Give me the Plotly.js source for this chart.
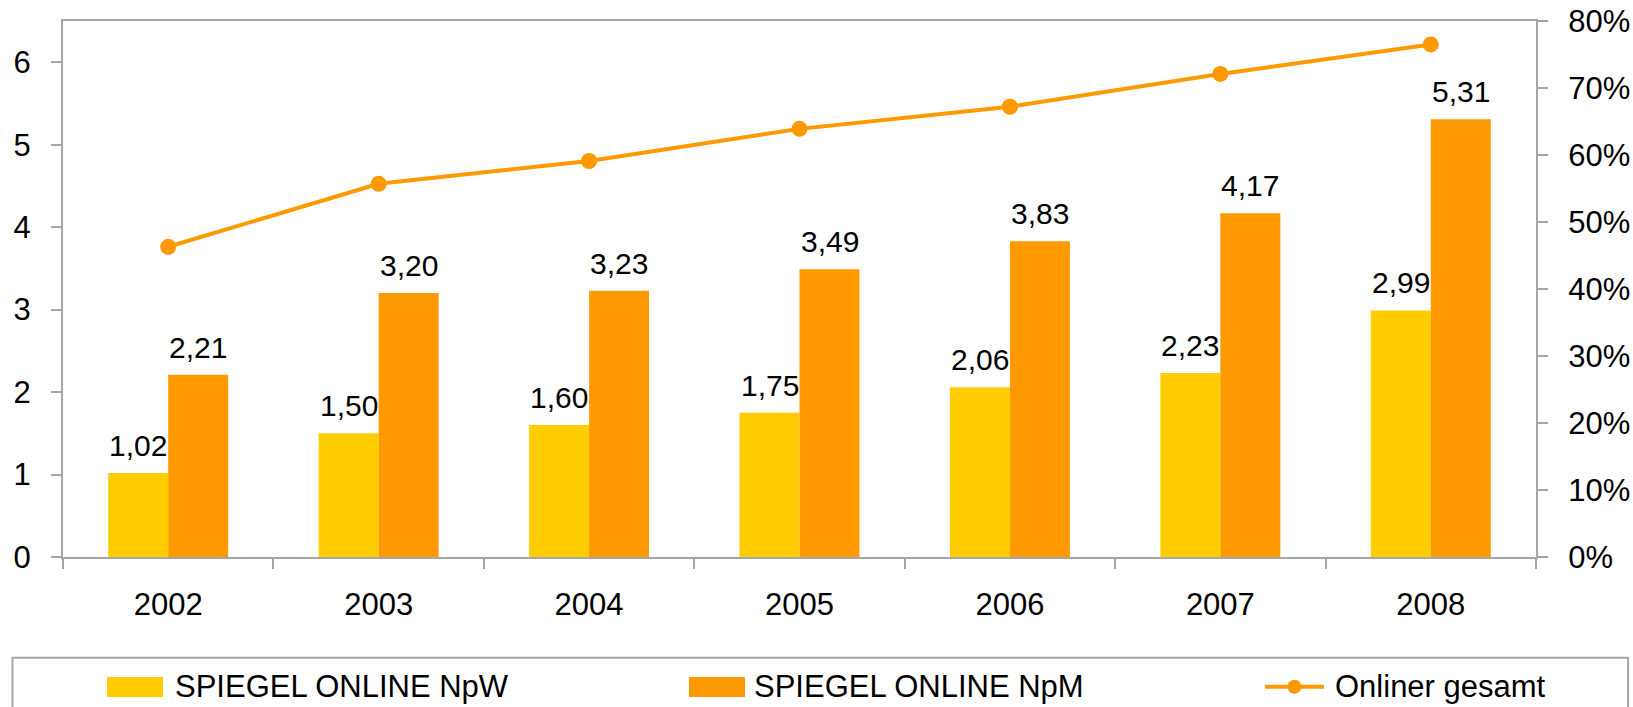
<!DOCTYPE html>
<html>
<head>
<meta charset="utf-8">
<script src="https://cdn.plot.ly/plotly-3.0.1.min.js"></script>
<style>html,body{margin:0;padding:0;background:#fff;}#chart{width:1633px;height:707px;}</style>
</head>
<body>
<div id="chart"></div>
<script>
const years = ['2002', '2003', '2004', '2005', '2006', '2007', '2008'];
const npw = [1.02, 1.50, 1.60, 1.75, 2.06, 2.23, 2.99];
const npm = [2.21, 3.20, 3.23, 3.49, 3.83, 4.17, 5.31];
const onliner = [0.463, 0.557, 0.591, 0.639, 0.672, 0.721, 0.765];
const seriesNames = ['SPIEGEL ONLINE NpW', 'SPIEGEL ONLINE NpM', 'Onliner gesamt'];

const FONT = '"Liberation Sans", Arial, sans-serif';
const YELLOW = '#FFCC00';
const ORANGE = '#FF9900';
const AXIS = '#a6a6a6';

const fmt = v => v.toFixed(2).replace('.', ',');

const traces = [
  {type: 'bar', name: seriesNames[0], x: years, y: npw, marker: {color: YELLOW}, hoverinfo: 'skip'},
  {type: 'bar', name: seriesNames[1], x: years, y: npm, marker: {color: ORANGE}, hoverinfo: 'skip'},
  {type: 'scatter', mode: 'lines+markers', name: seriesNames[2], x: years, y: onliner, yaxis: 'y2',
   line: {color: ORANGE, width: 4}, marker: {color: ORANGE, size: 16}, hoverinfo: 'skip'}
];

// value labels (category axis: annotation x uses the category serial number)
const annotations = [];
years.forEach((yr, i) => {
  annotations.push({x: i, y: npw[i], xref: 'x', yref: 'y', text: fmt(npw[i]), showarrow: false,
    xshift: -30, yshift: 9, yanchor: 'bottom', font: {family: FONT, size: 30, color: '#000'}});
  annotations.push({x: i, y: npm[i], xref: 'x', yref: 'y', text: fmt(npm[i]), showarrow: false,
    xshift: 30, yshift: 9, yanchor: 'bottom', font: {family: FONT, size: 30, color: '#000'}});
});

// legend drawn below the plot (paper coordinates)
const legY = -0.2425;
const legTextX = [0.0745, 0.4678, 0.8622];
seriesNames.forEach((n, k) => {
  annotations.push({x: legTextX[k], y: legY, xref: 'paper', yref: 'paper', text: n, showarrow: false,
    xanchor: 'left', yanchor: 'middle', font: {family: FONT, size: 31, color: '#000'}});
});

const shapes = [
  {type: 'rect', xref: 'paper', yref: 'paper', x0: -0.0343, x1: 1.0625, y0: -0.31, y1: -0.188,
    line: {color: AXIS, width: 2}, fillcolor: 'rgba(0,0,0,0)', layer: 'below'},
  {type: 'rect', xref: 'paper', yref: 'paper', x0: 0.0299, x1: 0.0679, y0: -0.2610, y1: -0.2237,
    line: {width: 0}, fillcolor: YELLOW},
  {type: 'rect', xref: 'paper', yref: 'paper', x0: 0.4250, x1: 0.4630, y0: -0.2610, y1: -0.2237,
    line: {width: 0}, fillcolor: ORANGE},
  {type: 'line', xref: 'paper', yref: 'paper', x0: 0.8160, x1: 0.8561, y0: -0.2420, y1: -0.2420,
    line: {color: ORANGE, width: 4}},
  {type: 'circle', xref: 'paper', yref: 'paper', x0: 0.8360 - 0.0048, x1: 0.8360 + 0.0048,
    y0: -0.2420 - 0.0131, y1: -0.2420 + 0.0131, line: {width: 0}, fillcolor: ORANGE}
];

const tickStyle = {ticklen: 10, tickwidth: 2, tickcolor: AXIS};

const layout = {
  width: 1633, height: 707,
  margin: {l: 63, r: 97, t: 21, b: 150, pad: 0, autoexpand: false},
  paper_bgcolor: '#fff', plot_bgcolor: '#fff',
  font: {family: FONT, size: 30, color: '#000'},
  barmode: 'group', bargap: 0.43, bargroupgap: 0,
  showlegend: false,
  xaxis: Object.assign({type: 'category', range: [-0.5, 6.5], showline: true, linecolor: AXIS, linewidth: 2, mirror: true,
    ticks: 'outside', tickson: 'boundaries',
    tickfont: {family: FONT, size: 31, color: '#000'}, ticklabelstandoff: 19, tickangle: 0,
    showgrid: false, zeroline: false, fixedrange: true}, tickStyle),
  // inner halves of the crossing tick marks
  xaxis2: Object.assign({overlaying: 'x', anchor: 'y', side: 'bottom', type: 'linear', range: [-0.5, 6.5],
    tick0: -0.5, dtick: 1, ticks: 'inside', showticklabels: false, showline: false,
    showgrid: false, zeroline: false, fixedrange: true}, tickStyle),
  yaxis: Object.assign({range: [0, 6.5], dtick: 1, tick0: 0, showline: true, linecolor: AXIS, linewidth: 2,
    ticks: 'outside', ticklabelstandoff: 14,
    tickfont: {family: FONT, size: 31, color: '#000'}, showgrid: false, zeroline: false, fixedrange: true}, tickStyle),
  yaxis2: Object.assign({overlaying: 'y', side: 'right', range: [0, 0.8], dtick: 0.1, tick0: 0, tickformat: '.0%',
    showline: true, linecolor: AXIS, linewidth: 2, ticks: 'outside', ticklabelstandoff: 14,
    tickfont: {family: FONT, size: 31, color: '#000'},
    showgrid: false, zeroline: false, fixedrange: true}, tickStyle),
  yaxis3: Object.assign({overlaying: 'y', anchor: 'x', side: 'left', range: [0, 6.5], dtick: 1, tick0: 0,
    ticks: 'inside', showticklabels: false, showline: false, showgrid: false, zeroline: false, fixedrange: true}, tickStyle),
  yaxis4: Object.assign({overlaying: 'y', anchor: 'x', side: 'right', range: [0, 0.8], dtick: 0.1, tick0: 0,
    ticks: 'inside', showticklabels: false, showline: false, showgrid: false, zeroline: false, fixedrange: true}, tickStyle),
  annotations: annotations,
  shapes: shapes
};

Plotly.newPlot('chart', traces, layout, {displayModeBar: false, staticPlot: true});
</script>
</body>
</html>
